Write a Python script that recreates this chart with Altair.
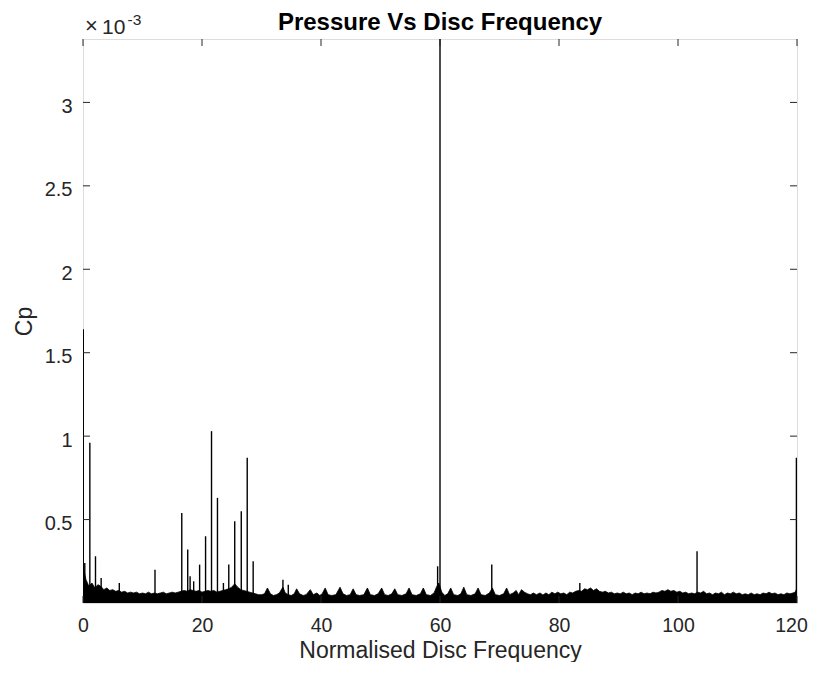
import altair as alt
import pandas as pd

# ---------------- data (Cp in units of 1e-3) ----------------
floor_x = [0.0, 0.5, 1.0, 1.5, 2.0, 2.5, 3.0, 3.5, 4.0, 4.5, 5.0, 5.5, 6.0, 6.5, 7.0, 7.5, 8.0, 8.5, 9.0, 9.5,
           10.0, 10.5, 11.0, 11.5, 12.0, 12.5, 13.0, 13.5, 14.0, 14.5, 15.0, 15.5, 16.0, 16.5, 17.0, 17.5, 18.0, 18.5, 19.0, 19.5,
           20.0, 20.5, 21.0, 21.5, 22.0, 22.5, 23.0, 23.5, 24.0, 24.5, 25.0, 25.5, 26.0, 26.5, 27.0, 27.5, 28.0, 28.5, 29.0, 29.5,
           30.0, 30.5, 31.0, 31.5, 32.0, 32.5, 33.0, 33.6, 34.0, 34.5, 35.0, 35.5, 35.9, 36.4, 37.0, 37.5, 38.2, 38.7, 39.3, 39.8,
           40.2, 40.7, 41.2, 41.8, 42.5, 43.2, 43.7, 44.3, 44.9, 45.4, 45.9, 46.5, 47.2, 47.8, 48.3, 49.0, 49.6, 50.2, 50.7, 51.3,
           51.9, 52.4, 52.9, 53.6, 54.3, 54.8, 55.3, 56.0, 56.7, 57.2, 57.7, 58.4, 59.0, 59.4, 59.8, 60.3, 60.8, 61.3, 61.8, 62.3,
           63.0, 63.5, 64.0, 64.5, 65.2, 65.9, 66.4, 66.9, 67.6, 68.3, 68.8, 69.3, 70.0, 70.7, 71.2, 71.7, 72.3, 72.8, 73.2, 73.7,
           74.2, 74.7, 75.2, 75.7, 76.2, 76.8, 77.3, 77.8, 78.3, 78.8, 79.3, 79.8, 80.3, 80.8, 81.3, 81.8, 82.3, 82.8, 83.3, 83.8,
           84.3, 84.8, 85.3, 85.8, 86.3, 86.8, 87.3, 87.8, 88.3, 88.8, 89.3, 89.8, 90.3, 90.8, 91.3, 91.8, 92.3, 92.8, 93.3, 93.8,
           94.3, 94.8, 95.3, 95.8, 96.3, 96.8, 97.3, 97.8, 98.3, 98.8, 99.3, 99.8, 100.3, 100.8, 101.3, 101.8, 102.3, 102.8, 103.3, 103.8,
           104.3, 104.8, 105.3, 105.8, 106.3, 106.8, 107.3, 107.8, 108.3, 108.8, 109.3, 109.8, 110.3, 110.8, 111.3, 111.8, 112.3, 112.8, 113.3, 113.8,
           114.3, 114.8, 115.3, 115.8, 116.3, 116.8, 117.3, 117.8, 118.3, 118.8, 119.3, 119.7, 120.0]
floor_y = [0.22, 0.14, 0.10, 0.12, 0.09, 0.11, 0.10, 0.08, 0.09, 0.075, 0.08, 0.07, 0.075, 0.065, 0.07, 0.06, 0.065, 0.06, 0.065, 0.055,
           0.06, 0.055, 0.065, 0.055, 0.06, 0.055, 0.06, 0.065, 0.055, 0.06, 0.065, 0.06, 0.065, 0.07, 0.075, 0.07, 0.08, 0.075, 0.07, 0.075,
           0.065, 0.07, 0.075, 0.07, 0.075, 0.065, 0.07, 0.075, 0.08, 0.085, 0.095, 0.115, 0.095, 0.08, 0.075, 0.07, 0.065, 0.06, 0.055, 0.05,
           0.05, 0.055, 0.09, 0.055, 0.045, 0.05, 0.06, 0.095, 0.06, 0.05, 0.045, 0.055, 0.085, 0.055, 0.045, 0.05, 0.08, 0.05, 0.06, 0.045,
           0.055, 0.09, 0.05, 0.045, 0.05, 0.095, 0.055, 0.045, 0.05, 0.085, 0.05, 0.045, 0.05, 0.09, 0.05, 0.045, 0.055, 0.09, 0.05, 0.045,
           0.055, 0.085, 0.05, 0.045, 0.055, 0.09, 0.05, 0.045, 0.055, 0.09, 0.05, 0.045, 0.06, 0.095, 0.12, 0.065, 0.045, 0.055, 0.09, 0.05,
           0.045, 0.055, 0.095, 0.05, 0.045, 0.055, 0.09, 0.05, 0.045, 0.06, 0.09, 0.05, 0.045, 0.055, 0.09, 0.05, 0.06, 0.075, 0.05, 0.08,
           0.065, 0.055, 0.05, 0.06, 0.05, 0.06, 0.048, 0.06, 0.05, 0.065, 0.055, 0.065, 0.055, 0.06, 0.05, 0.065, 0.06, 0.07, 0.075, 0.07,
           0.085, 0.08, 0.09, 0.075, 0.085, 0.07, 0.065, 0.07, 0.06, 0.065, 0.055, 0.06, 0.055, 0.065, 0.055, 0.06, 0.05, 0.06, 0.055, 0.065,
           0.055, 0.06, 0.055, 0.065, 0.06, 0.065, 0.075, 0.07, 0.08, 0.07, 0.075, 0.065, 0.07, 0.06, 0.065, 0.055, 0.06, 0.055, 0.065, 0.06,
           0.07, 0.055, 0.06, 0.05, 0.06, 0.055, 0.065, 0.05, 0.06, 0.055, 0.065, 0.055, 0.06, 0.05, 0.055, 0.05, 0.06, 0.05, 0.055, 0.05,
           0.06, 0.055, 0.065, 0.055, 0.06, 0.05, 0.055, 0.05, 0.06, 0.055, 0.06, 0.065, 0.09]

spike_x = [0.05, 0.3, 1.15, 2.1, 3.05, 6.1, 12.1, 16.6, 17.6, 18.0, 18.6, 19.6, 20.6, 21.6, 22.6, 23.6, 24.5, 25.5,
           26.6, 27.6, 28.6, 33.6, 34.5, 59.6, 60.0, 68.7, 83.5, 103.2, 119.9]
spike_h = [1.64, 0.24, 0.96, 0.28, 0.15, 0.12, 0.20, 0.54, 0.32, 0.16, 0.13, 0.23, 0.40, 1.03, 0.63, 0.12, 0.23, 0.49,
           0.55, 0.87, 0.25, 0.14, 0.11, 0.22, 3.38, 0.23, 0.12, 0.31, 0.87]

x_ticks = [0, 20, 40, 60, 80, 100, 120]
y_ticks = [0.5, 1.0, 1.5, 2.0, 2.5, 3.0]
x_domain = [0, 120]
y_domain = [0, 3.38]

title_text = ["Pressure Vs Disc Frequency"]
x_title = "Normalised Disc Frequency"
y_title = "Cp"
exp_times = ["\u00d7"]
exp_base = ["10"]
exp_power = ["-3"]

FONT = "Liberation Sans"
INK = "#262626"
W, H = 714, 564

floor_df = pd.DataFrame({"x": floor_x, "y": floor_y})
spike_df = pd.DataFrame({"x": spike_x, "y": spike_h, "y0": [0.0] * len(spike_x)})
xt_df = pd.DataFrame({"t": x_ticks})
yt_df = pd.DataFrame({"t": y_ticks})

xs = alt.Scale(domain=x_domain, nice=False, zero=False)
ys = alt.Scale(domain=y_domain, nice=False, zero=False)

floor = alt.Chart(floor_df).mark_area(color="black", stroke="black", strokeWidth=0.8, clip=True).encode(
    x=alt.X("x:Q", scale=xs, title=x_title,
            axis=alt.Axis(values=x_ticks, title=x_title, ticks=False, tickSize=0, domain=False, grid=False,
                          labelFlush=False, labelOverlap=False,
                          labelOffset={"expr": "datum.value == 120 ? -6 : 0"},
                          labelFont=FONT, labelFontSize=19.5, labelColor=INK, labelPadding=13,
                          titleFont=FONT, titleFontSize=23, titleFontWeight="normal", titleColor=INK,
                          titleX=W / 2, titleY=54, titleBaseline="alphabetic", titleAnchor="middle")),
    y=alt.Y("y:Q", scale=ys, title=y_title,
            axis=alt.Axis(values=y_ticks, title=y_title, ticks=False, tickSize=0, domain=False, grid=False,
                          labelFlush=False, labelOverlap=False,
                          labelFont=FONT, labelFontSize=20, labelColor=INK, labelPadding=11,
                          labelExpr="format(datum.value, '~g')", labelBaseline="middle", labelOffset=4,
                          titleFont=FONT, titleFontSize=23, titleFontWeight="normal", titleColor=INK,
                          titleAngle=-90, titleX=-52, titleY=H / 2, titleBaseline="alphabetic",
                          titleAlign="center")),
)

spikes = alt.Chart(spike_df).mark_rule(color="black", strokeWidth=1.4, clip=True).encode(
    x=alt.X("x:Q", scale=xs, title=x_title),
    y=alt.Y("y0:Q", scale=ys, title=y_title),
    y2="y:Q",
)

xt_bottom = alt.Chart(xt_df).mark_rule(color=INK, strokeWidth=1).encode(
    x=alt.X("t:Q", scale=xs, title=x_title), y=alt.value(H), y2=alt.value(H - 7))
xt_top = alt.Chart(xt_df).mark_rule(color=INK, strokeWidth=1).encode(
    x=alt.X("t:Q", scale=xs, title=x_title), y=alt.value(0), y2=alt.value(7))
yt_left = alt.Chart(yt_df).mark_rule(color=INK, strokeWidth=1).encode(
    y=alt.Y("t:Q", scale=ys, title=y_title), x=alt.value(0), x2=alt.value(7))
yt_right = alt.Chart(yt_df).mark_rule(color=INK, strokeWidth=1).encode(
    y=alt.Y("t:Q", scale=ys, title=y_title), x=alt.value(W), x2=alt.value(W - 7))

title = alt.Chart(pd.DataFrame({"s": title_text})).mark_text(
    font=FONT, fontSize=24, fontWeight="bold", color="black", align="center", baseline="alphabetic"
).encode(text="s:N", x=alt.value(W / 2), y=alt.value(-9.3))

exp0 = alt.Chart(pd.DataFrame({"s": exp_times})).mark_text(
    font=FONT, fontSize=22, color=INK, align="left", baseline="alphabetic"
).encode(text="s:N", x=alt.value(2), y=alt.value(-6))
exp1 = alt.Chart(pd.DataFrame({"s": exp_base})).mark_text(
    font=FONT, fontSize=21, color=INK, align="left", baseline="alphabetic"
).encode(text="s:N", x=alt.value(19), y=alt.value(-5))
exp2 = alt.Chart(pd.DataFrame({"s": exp_power})).mark_text(
    font=FONT, fontSize=15.5, color=INK, align="left", baseline="alphabetic"
).encode(text="s:N", x=alt.value(44.5), y=alt.value(-14))

chart = alt.layer(floor, spikes, xt_bottom, xt_top, yt_left, yt_right, title, exp0, exp1, exp2).properties(
    width=W, height=H,
    autosize=alt.AutoSizeParams(type="none"),
    padding={"left": 75, "top": 31, "right": 11, "bottom": 59},
).configure_view(stroke=INK, strokeWidth=1).configure(background="white")

chart.save("out.html", embed_options={"renderer": "svg", "actions": False})
